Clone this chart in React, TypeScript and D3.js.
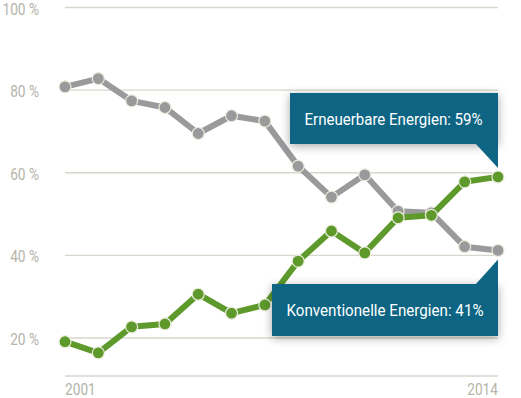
import * as d3 from 'd3'
import React from 'react'

const years = d3.range(2001, 2015)
const konventionell = [80.8, 82.8, 77.4, 75.8, 69.5, 73.8, 72.5, 61.6, 54.1, 59.5, 50.7, 50.3, 42.1, 41.2]
const erneuerbar = [19.1, 16.4, 22.7, 23.4, 30.6, 26.0, 28.0, 38.6, 45.9, 40.6, 49.1, 49.7, 57.8, 59.0]
const yTicks = [20, 40, 60, 80, 100]
const xLabels = ['2001', '2014']
const calloutTop = 'Erneuerbare Energien: 59%'
const calloutBottom = 'Konventionelle Energien: 41%'

const W = 521
const H = 398
const font = 'Roboto, sans-serif'

// squeeze text horizontally, the original uses a condensed face
function condense(sel: d3.Selection<any, any, any, any>, ratio: number) {
    sel.each(function () {
        const el = this as SVGTextElement
        const len = el.getComputedTextLength()
        d3.select(el).attr('textLength', len * ratio).attr('lengthAdjust', 'spacingAndGlyphs')
    })
}

export default function App() {
    const svgRef = React.useRef<SVGSVGElement | null>(null)

    React.useEffect(() => {
        const svg = d3.select(svgRef.current)
        svg.selectAll('*').remove()

        const x = d3.scaleLinear().domain([2001, 2014]).range([65, 498])
        const y = d3.scaleLinear().domain([20, 100]).range([338, 7.5])
        const baseY = 376

        const defs = svg.append('defs')
        const f = defs
            .append('filter')
            .attr('id', 'shadow')
            .attr('x', '-20%')
            .attr('y', '-50%')
            .attr('width', '140%')
            .attr('height', '200%')
        f.append('feDropShadow')
            .attr('dx', 0)
            .attr('dy', 2)
            .attr('stdDeviation', 5)
            .attr('flood-color', '#000')
            .attr('flood-opacity', 0.35)

        // grid
        svg.append('g')
            .selectAll('line')
            .data(yTicks)
            .join('line')
            .attr('x1', 65)
            .attr('x2', 498)
            .attr('y1', (d) => y(d))
            .attr('y2', (d) => y(d))
            .attr('stroke', '#d8d7cd')
            .attr('stroke-width', 1.3)

        svg.append('line')
            .attr('x1', 65)
            .attr('x2', 498)
            .attr('y1', baseY)
            .attr('y2', baseY)
            .attr('stroke', '#d8d7cd')
            .attr('stroke-width', 1.3)

        const yLab = svg
            .append('g')
            .selectAll('text')
            .data(yTicks)
            .join('text')
            .attr('x', 39)
            .attr('y', (d) => y(d) + 7)
            .attr('text-anchor', 'end')
            .attr('font-family', font)
            .attr('font-size', 16.5)
            .attr('fill', '#b5b4aa')
            .text((d) => `${d} %`)
        condense(yLab, 0.83)

        const xLab = svg
            .append('g')
            .selectAll('text')
            .data(xLabels)
            .join('text')
            .attr('x', (d) => x(+d))
            .attr('y', 395)
            .attr('text-anchor', (d, i) => (i === 0 ? 'start' : 'end'))
            .attr('font-family', font)
            .attr('font-size', 16.5)
            .attr('fill', '#b5b4aa')
            .text((d) => d)
        condense(xLab, 0.83)

        const line = d3
            .line<number>()
            .x((d, i) => x(years[i]))
            .y((d) => y(d))

        const series = [
            { values: konventionell, color: '#9a9a9d' },
            { values: erneuerbar, color: '#5e9a2b' },
        ]

        series.forEach((s) => {
            svg.append('path')
                .datum(s.values)
                .attr('d', line)
                .attr('fill', 'none')
                .attr('stroke', s.color)
                .attr('stroke-width', 6)
                .attr('stroke-linejoin', 'round')
            svg.append('g')
                .selectAll('circle')
                .data(s.values)
                .join('circle')
                .attr('cx', (d, i) => x(years[i]))
                .attr('cy', (d) => y(d))
                .attr('r', 6)
                .attr('fill', s.color)
                .attr('stroke', '#ecebdc')
                .attr('stroke-width', 1.2)
        })

        // callouts
        const teal = '#0e6583'
        const right = x(2014)
        const lastE = erneuerbar[erneuerbar.length - 1]
        const lastK = konventionell[konventionell.length - 1]

        const top = svg.append('g')
        const tTop = 93
        const tBot = 144
        top.append('rect')
            .attr('x', 290)
            .attr('y', tTop)
            .attr('width', right - 290)
            .attr('height', tBot - tTop)
            .attr('fill', teal)
            .attr('filter', 'url(#shadow)')
        top.append('path')
            .attr('d', `M${right - 23},${tBot - 1} L${right},${tBot - 1} L${right},${y(lastE) - 9} Z`)
            .attr('fill', teal)
        top.append('text')
            .attr('x', (290 + right) / 2 - 0.5)
            .attr('y', 125)
            .attr('text-anchor', 'middle')
            .attr('font-family', font)
            .attr('font-size', 16.5)
            .attr('fill', '#fff')
            .attr('textLength', 178)
            .attr('lengthAdjust', 'spacingAndGlyphs')
            .text(calloutTop)

        const bot = svg.append('g')
        const bTop = 284
        const bBot = 336
        bot.append('rect')
            .attr('x', 272)
            .attr('y', bTop)
            .attr('width', right - 272)
            .attr('height', bBot - bTop)
            .attr('fill', teal)
            .attr('filter', 'url(#shadow)')
        bot.append('path')
            .attr('d', `M${right - 23},${bTop + 1} L${right},${bTop + 1} L${right},${y(lastK) + 9} Z`)
            .attr('fill', teal)
        bot.append('text')
            .attr('x', 385)
            .attr('y', 316)
            .attr('text-anchor', 'middle')
            .attr('font-family', font)
            .attr('font-size', 16.5)
            .attr('fill', '#fff')
            .attr('textLength', 197)
            .attr('lengthAdjust', 'spacingAndGlyphs')
            .text(calloutBottom)
    }, [])

    return (
        <svg
            ref={svgRef}
            width={W}
            height={H}
            style={{ position: 'absolute', left: 0, top: 0, background: '#fff' }}
        />
    )
}
